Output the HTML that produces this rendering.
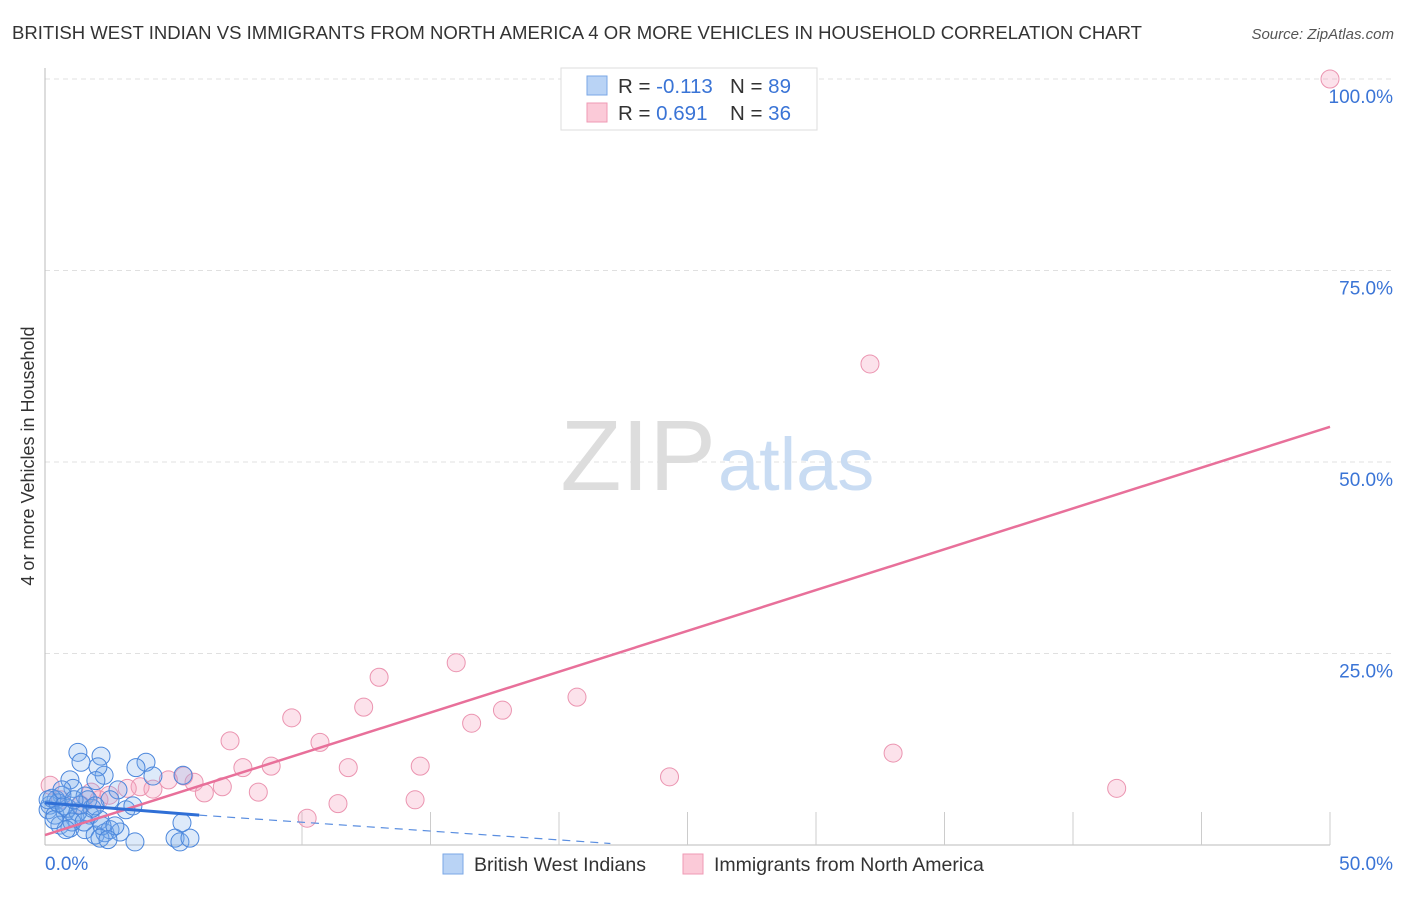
<!DOCTYPE html>
<html><head><meta charset="utf-8"><style>
body{margin:0;background:#fff;font-family:"Liberation Sans",sans-serif}
svg text{font-family:"Liberation Sans",sans-serif}
</style></head><body>
<svg width="1406" height="892">
<text x="12" y="39" font-size="18.5" fill="#333" textLength="1130" lengthAdjust="spacingAndGlyphs">BRITISH WEST INDIAN VS IMMIGRANTS FROM NORTH AMERICA 4 OR MORE VEHICLES IN HOUSEHOLD CORRELATION CHART</text>
<text x="1394" y="39" font-size="15" fill="#555" font-style="italic" text-anchor="end">Source: ZipAtlas.com</text>
<text transform="translate(34,456) rotate(-90)" font-size="18" fill="#333" text-anchor="middle">4 or more Vehicles in Household</text>
<g id="grid"></g>
<text x="716" y="490" font-size="100" fill="#ddd" text-anchor="end" font-family="Liberation Serif">ZIP</text>
<text x="718" y="490" font-size="74" fill="#c9dcf3">atlas</text>
<g id="pts"></g>
<g id="lines"></g>
<g>
<rect x="561" y="68" width="256" height="62" fill="#fff" stroke="#ddd"/>
<rect x="587" y="76" width="20" height="19" fill="#b9d3f5" stroke="#7aa7e6"/>
<rect x="587" y="103" width="20" height="19" fill="#fbcad8" stroke="#ef9ab4"/>
<text x="618" y="93" font-size="20.5" fill="#333">R = <tspan fill="#3a74d6">-0.113</tspan></text>
<text x="730" y="93" font-size="20.5" fill="#333">N = <tspan fill="#3a74d6">89</tspan></text>
<text x="618" y="120" font-size="20.5" fill="#333">R = <tspan fill="#3a74d6"> 0.691</tspan></text>
<text x="730" y="120" font-size="20.5" fill="#333">N = <tspan fill="#3a74d6">36</tspan></text>
</g>
<text x="45" y="870" font-size="19" fill="#3a74d6">0.0%</text>
<text x="1393" y="870" font-size="19" fill="#3a74d6" text-anchor="end">50.0%</text>
<g>
<rect x="443" y="854" width="20" height="20" fill="#b9d3f5" stroke="#7aa7e6"/>
<text x="474" y="871" font-size="19.5" fill="#333">British West Indians</text>
<rect x="683" y="854" width="20" height="20" fill="#fbcad8" stroke="#ef9ab4"/>
<text x="714" y="871" font-size="19.5" fill="#333">Immigrants from North America</text>
</g>
</svg>
<script>
const yTicks=[25,50,75,100];
const yTickLabels=["25.0%","50.0%","75.0%","100.0%"];
const xTicks=[10,15,20,25,30,35,40,45,50];
const pinkX=[50,32.1,16.0,13.0,20.7,12.4,17.8,9.6,16.6,7.2,10.7,33.0,14.6,8.8,7.7,11.8,24.3,5.4,5.8,4.8,6.9,41.7,8.3,6.2,3.7,4.2,3.2,14.4,11.4,10.2,0.2,0.6,1.4,2.1,2.5,1.8];
const pinkY=[100,62.8,23.8,21.9,19.3,18.0,17.6,16.6,15.9,13.6,13.4,12.0,10.3,10.3,10.1,10.1,8.9,9.0,8.2,8.5,7.6,7.4,6.9,6.8,7.6,7.3,7.4,5.9,5.4,3.5,7.8,5.9,5.2,5.9,6.5,6.9];
const blueX=[1.28,1.40,2.18,3.93,3.54,2.30,2.06,4.20,5.37,0.97,1.98,2.84,1.09,0.66,1.56,2.53,3.15,3.42,0.43,0.19,0.12,0.39,0.78,1.17,1.75,2.14,0.58,0.97,1.56,1.95,2.33,2.53,2.92,3.50,5.06,5.25,5.64,5.33,0.89,1.36,1.83,0.27,0.51,0.74,1.67,1.95,1.28,1.05,2.22,2.72,0.82,0.35,0.12,0.66,1.13,1.52,2.14,2.45];
const blueY=[12.1,10.8,11.6,10.8,10.1,9.1,10.2,9.0,9.1,8.5,8.4,7.2,7.4,6.5,6.4,5.9,4.6,5.1,5.9,5.2,4.6,3.9,4.3,3.5,3.9,3.3,2.6,2.2,2.0,1.3,1.6,2.0,1.7,0.4,0.9,0.4,0.9,2.9,4.8,5.2,4.8,6.1,5.5,5.1,5.9,5.1,4.3,3.0,2.5,2.5,2.0,3.3,5.9,7.2,5.9,3.0,0.9,0.7];
const pinkLine=[[0,1.3],[50,54.6]];
const blueLine=[[0,5.5],[6,3.9]];
const blueDash=[[6,3.9],[22,0.2]];
const sx=v=>45+v*25.7, sy=v=>845-v*7.66;
const NS="http://www.w3.org/2000/svg";
function mk(t,a,p){const e=document.createElementNS(NS,t);for(const k in a)e.setAttribute(k,a[k]);p.appendChild(e);return e;}
const g=document.getElementById('grid');
yTicks.forEach((v,i)=>{
 const l=mk('line',{x1:45,x2:1395,y1:sy(v),y2:sy(v),stroke:'#e0e0e0','stroke-dasharray':'5,4'},g);
 
 
 const t=mk('text',{x:1393,y:sy(v)+24,'font-size':19,fill:'#3a74d6','text-anchor':'end'},g);
 t.textContent=yTickLabels[i];
 
 
});
const ax=mk('line',{x1:45,x2:45,y1:68,y2:845,stroke:'#bbb'},g);


const bx=mk('line',{x1:45,x2:1330,y1:845,y2:845,stroke:'#bbb'},g);


xTicks.forEach(v=>{const t=mk('line',{x1:sx(v),x2:sx(v),y1:812,y2:845,stroke:'#ccc'},g);
 
 });
const p=document.getElementById('pts');
pinkX.forEach((x,i)=>{const c=mk('circle',{cx:sx(x),cy:sy(pinkY[i]),r:9,fill:'rgba(244,160,188,0.3)',stroke:'#eb94b0','stroke-width':1},p);
 
 });
blueX.forEach((x,i)=>{const c=mk('circle',{cx:sx(x),cy:sy(blueY[i]),r:9,fill:'rgba(120,170,235,0.25)',stroke:'#4a86dc','stroke-width':1},p);
 
 });
const L=document.getElementById('lines');
const pl=mk('line',{x1:sx(pinkLine[0][0]),y1:sy(pinkLine[0][1]),x2:sx(pinkLine[1][0]),y2:sy(pinkLine[1][1]),stroke:'#e8709a','stroke-width':2.5},L);


const bl=mk('line',{x1:sx(blueLine[0][0]),y1:sy(blueLine[0][1]),x2:sx(blueLine[1][0]),y2:sy(blueLine[1][1]),stroke:'#2f6fd6','stroke-width':3},L);


const bd=mk('line',{x1:sx(blueDash[0][0]),y1:sy(blueDash[0][1]),x2:sx(blueDash[1][0]),y2:sy(blueDash[1][1]),stroke:'#5a8ee0','stroke-width':1.2,'stroke-dasharray':'8,6'},L);


</script>
</body></html>
